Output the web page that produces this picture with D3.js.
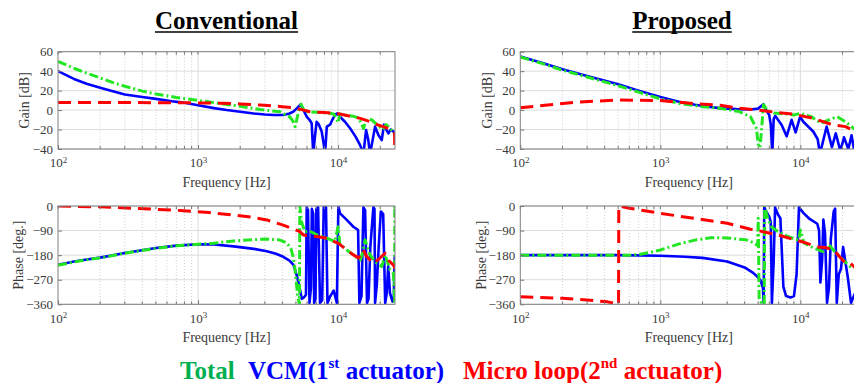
<!DOCTYPE html>
<html>
<head>
<meta charset="utf-8">
<script src="https://cdn.jsdelivr.net/npm/d3@7/dist/d3.min.js"></script>
<style>
  body { margin: 0; background: #fff; }
  svg { display: block; }
  text { font-family: "Liberation Serif", "Times New Roman", Times, "DejaVu Serif", serif; }
</style>
</head>
<body>
<svg id="chart" width="854" height="383"></svg>
<script>
// ---- data: [frequency Hz, value] ----
const freqDomain = [100, 25500];
const gainTicks = [60, 40, 20, 0, -20, -40];
const phaseTicks = [0, -90, -180, -270, -360];
const decadeTicks = [100, 1000, 10000];

// Conventional, gain [dB]
const convGainVcm = [[100,40],[130,32],[160,27],[200,23],[250,19],[300,16],[400,13.5],[500,11.5],[650,9],[785,7.7],[1000,5],[1300,2],[1600,0],[2000,-1.7],[2500,-3.5],[3000,-4.5],[3500,-5],[4060,-5],[4500,-3.5],[4800,-1.5],[5100,2],[5400,5.9],[5700,-1],[5970,-6.8],[6250,-10],[6480,-13.6],[6650,-45],[6800,-30],[7030,-12],[7300,-15],[7640,-22],[7900,-35],[8070,-45],[8310,-17],[8770,-15],[9100,-10],[9520,-5],[9890,-3.4],[10300,-6.8],[11200,-12],[12180,-18.7],[13300,-27],[14370,-36],[15170,-45],[15850,-20.5],[16400,-30],[16930,-45],[18380,-17],[19400,-25.6],[20500,-30.8],[21300,-15],[22100,-20],[22880,-24],[23800,-20],[24840,-22],[25500,-24]];
const convGainMicro = [[100,7.7],[300,7.7],[700,7.6],[1000,7.4],[1500,7],[2000,6.3],[2773,5.2],[4000,3.5],[4786,2.5],[5500,0.5],[6300,-1.7],[8000,-2.5],[9700,-3.4],[12000,-6],[14400,-8.5],[17000,-12],[19000,-15],[22000,-18],[24800,-22],[25300,-24],[25500,-50]];
const convGainTotal = [[100,50],[130,43],[160,38],[200,33],[250,28],[300,24.5],[400,19.5],[500,16.5],[700,13],[1000,10],[1400,7],[2000,4],[2773,0.5],[3200,-0.5],[3860,-1.7],[4500,-6.8],[4750,-11],[4930,-17],[5100,-8],[5300,2],[5450,6],[5600,2],[5800,-1.5],[6500,-2],[7500,-2.5],[8500,-3],[9300,-4],[9700,-8],[10000,-13],[10300,-4],[11000,-5],[12500,-6],[14000,-8],[14800,-15],[15170,-19],[15700,-12],[16300,-9],[17400,-10],[19000,-15],[20900,-20],[22000,-15],[23000,-17],[24500,-22],[25500,-24]];

// Conventional, phase [deg.]
const convPhaseVcm = [[100,-215],[130,-203],[160,-196],[200,-189],[300,-172],[500,-154],[700,-145],[1000,-140],[1300,-141],[1800,-148],[2500,-157],[3100,-166],[3600,-175],[4060,-186],[4500,-200],[4800,-216],[5100,-259],[5350,-307],[5500,-340],[5700,-335],[5900,-325],[5970,-5],[6100,-15],[6250,-355],[6400,-300],[6500,-10],[6650,-30],[6750,-355],[6900,-340],[7000,-10],[7200,-5],[7430,-355],[7700,-345],[7900,-5],[8200,-5],[8400,-355],[8800,-330],[9300,-310],[9800,-355],[10050,-2],[10330,-27],[11530,-51],[12850,-76],[13900,-88],[14200,-355],[14700,-330],[15170,-5],[15600,-15],[16100,-355],[16500,-340],[17000,-150],[17870,-5],[18200,-10],[18380,-355],[18900,-290],[19500,-150],[20200,-20],[21000,-30],[21700,-355],[22270,-320],[22800,-220],[23500,-320],[24500,-350],[25000,-340],[25300,-200],[25500,-180]];
const convPhaseMicro = [[100,0],[200,-3],[345,-8.5],[500,-12],[785,-17],[1200,-24],[1790,-33],[2500,-42],[3100,-51],[4060,-70],[5340,-94],[5650,-106],[7000,-112],[8310,-118],[10050,-137],[11500,-160],[12850,-179],[14000,-190],[15170,-161],[16000,-185],[17870,-210],[19500,-195],[21660,-173],[23000,-200],[24840,-216],[25500,-228]];
const convPhaseTotal = [[100,-217],[130,-205],[160,-197],[200,-190],[300,-173],[500,-155],[700,-146],[1000,-140],[1300,-136],[1800,-128],[2500,-123],[3100,-121],[3800,-124],[4300,-135],[4600,-155],[4800,-190],[4930,-234],[5150,-330],[5300,-360],[5330,0],[5500,-60],[5800,-95],[6300,-92],[7000,-105],[8300,-118],[9500,-130],[10000,-76],[10300,-139],[11500,-160],[12850,-179],[14400,-198],[15000,-170],[15600,-124],[16900,-179],[18400,-204],[20500,-222],[21700,-179],[23500,-234],[24800,-246],[25200,-300],[25350,-360],[25400,0],[25500,-30]];

// Proposed, gain [dB]
const propGainVcm = [[100,55],[150,47.5],[200,42],[300,35],[500,26.5],[700,20],[1000,13.5],[1400,8],[1770,5.5],[2200,3.5],[2670,2],[3500,1],[4400,0.6],[5000,1.5],[5450,6],[5700,0],[5990,-5],[6150,-15],[6300,-45],[6450,-9],[6620,-6],[7340,-15],[7980,-27],[8660,-10],[9250,-23],[9960,-6.8],[10500,-12],[12350,-22],[13300,-30],[13800,-45],[15400,-17],[16800,-38],[17900,-24],[19300,-42],[20500,-28],[22000,-40],[23200,-26],[24500,-45]];
const propGainMicro = [[100,2.4],[150,5],[250,8.2],[500,10.3],[1000,9.8],[1770,6.5],[2670,5],[3650,1.8],[4930,0.2],[5990,-1.5],[8900,-4.2],[12350,-8.5],[16800,-15],[21000,-17],[24000,-21],[25500,-23]];
const propGainTotal = [[100,54.5],[150,47],[200,41],[300,34],[500,25],[700,18.5],[1000,11.5],[1400,6.5],[2000,3.5],[2670,1.8],[3650,-1.5],[4400,-6.8],[4850,-18.7],[5100,-45],[5250,-25],[5450,5.5],[5800,0],[6500,-3],[8000,-4],[9000,-5],[10000,-3.4],[12000,-6.8],[14000,-13.6],[16000,-10],[18300,-6.8],[21000,-12],[24000,-18.7],[25500,-22]];

// Proposed, phase [deg.]
const propPhaseVcm = [[100,-180],[500,-180],[1000,-182],[1500,-186],[2000,-190],[3000,-203],[4000,-225],[4600,-245],[5000,-262],[5200,-272],[5400,-300],[5470,-355],[5520,-5],[5700,-20],[6000,-40],[6150,-60],[6260,-355],[6450,-200],[6600,-5],[6900,-30],[7200,-45],[7560,-295],[7900,-330],[8500,-335],[9000,-330],[9400,-250],[9770,-5],[10500,-25],[11500,-45],[13200,-65],[13600,-90],[13900,-280],[14300,-200],[14600,-50],[15000,-100],[15500,-355],[16000,-300],[16500,-120],[17300,-20],[17700,-10],[18200,-355],[18800,-250],[19500,-230],[20200,-150],[20900,-200],[21800,-260],[23000,-355],[24500,-320]];
const propPhaseMicro = [[100,-332],[200,-338],[300,-344],[420,-351],[503,-360],[505,0],[600,-8],[1000,-27],[1730,-45],[3000,-63],[4400,-85],[5180,-92],[6070,-100],[7160,-108],[9120,-124],[10500,-132],[13100,-150],[15000,-152],[17300,-161],[19000,-185],[21100,-210],[22740,-210],[24500,-225]];
const propPhaseTotal = [[100,-180],[600,-180],[700,-178],[850,-170],[1000,-161],[1400,-137],[1800,-124],[2300,-116],[3000,-117],[4100,-124],[4600,-134],[4950,-145],[5000,-45],[5080,-345],[5300,-355],[5520,-360],[5560,0],[5800,-40],[6200,-76],[7000,-95],[8000,-110],[9000,-120],[9700,-125],[10000,-88],[10600,-135],[12000,-150],[14500,-167],[16000,-143],[17500,-165],[19500,-190],[22700,-222],[24500,-225]];

// ---- drawing ----
const svg = d3.select('#chart');
const serif = '"Liberation Serif", "Times New Roman", Times, "DejaVu Serif", serif';
const textColor = '#3a3a3a';
const style = {
  vcm: { color: '#0000ff', width: 2.6, dash: null },
  total: { color: '#22e622', width: 3, dash: '9,3,2,3' },
  micro: { color: '#ff0000', width: 3, dash: '13,7' }
};

const panels = [
  { id: 'cg', left: 58, right: 395, top: 51.7, bottom: 149, domain: [-40, 60], ticks: gainTicks, label: 'Gain [dB]', labelX: 29,
    series: [[convGainVcm, 'vcm'], [convGainTotal, 'total'], [convGainMicro, 'micro']] },
  { id: 'cp', left: 58, right: 395, top: 206, bottom: 304.3, domain: [-360, 0], ticks: phaseTicks, label: 'Phase [deg.]', labelX: 23,
    series: [[convPhaseVcm, 'vcm'], [convPhaseTotal, 'total'], [convPhaseMicro, 'micro']] },
  { id: 'pg', left: 520.3, right: 857.3, top: 51.7, bottom: 149, domain: [-40, 60], ticks: gainTicks, label: 'Gain [dB]', labelX: 492,
    series: [[propGainVcm, 'vcm'], [propGainTotal, 'total'], [propGainMicro, 'micro']] },
  { id: 'pp', left: 520.3, right: 857.3, top: 206, bottom: 304.3, domain: [-360, 0], ticks: phaseTicks, label: 'Phase [deg.]', labelX: 486,
    series: [[propPhaseVcm, 'vcm'], [propPhaseTotal, 'total'], [propPhaseMicro, 'micro']] }
];

// minor decade positions 2..9 x 10^k inside the domain
const minorTicks = [];
[100, 1000, 10000].forEach(d => {
  for (let m = 2; m <= 9; m++) if (d * m <= freqDomain[1]) minorTicks.push(d * m);
});

panels.forEach(p => {
  const x = d3.scaleLog().domain(freqDomain).range([p.left, p.right]);
  const y = d3.scaleLinear().domain(p.domain).range([p.bottom, p.top]);
  const g = svg.append('g');
  const w = p.right - p.left, h = p.bottom - p.top;

  // grid
  g.append('g').selectAll('line').data(minorTicks).join('line')
    .attr('x1', d => x(d)).attr('x2', d => x(d)).attr('y1', p.top).attr('y2', p.bottom)
    .attr('stroke', '#c4c4c4').attr('stroke-width', 0.8).attr('stroke-dasharray', '1,2');
  g.append('g').selectAll('line').data(decadeTicks.slice(1)).join('line')
    .attr('x1', d => x(d)).attr('x2', d => x(d)).attr('y1', p.top).attr('y2', p.bottom)
    .attr('stroke', '#dcdcdc').attr('stroke-width', 1);
  g.append('g').selectAll('line').data(p.ticks).join('line')
    .attr('x1', p.left).attr('x2', p.right).attr('y1', d => y(d)).attr('y2', d => y(d))
    .attr('stroke', '#dcdcdc').attr('stroke-width', 1);

  // curves
  svg.append('clipPath').attr('id', 'clip-' + p.id)
    .append('rect').attr('x', p.left).attr('y', p.top).attr('width', w).attr('height', h);
  const line = d3.line().x(d => x(d[0])).y(d => y(d[1]));
  const curves = g.append('g').attr('clip-path', 'url(#clip-' + p.id + ')');
  p.series.forEach(([data, key]) => {
    const s = style[key];
    curves.append('path').datum(data)
      .attr('d', line)
      .attr('fill', 'none')
      .attr('stroke', s.color)
      .attr('stroke-width', s.width)
      .attr('stroke-linejoin', 'round')
      .attr('stroke-dasharray', s.dash);
  });

  // axes (ticks pointing inward like MATLAB)
  const yAxis = d3.axisLeft(y).tickValues(p.ticks).tickSizeInner(-4).tickSizeOuter(0).tickPadding(5);
  const yA = g.append('g').attr('transform', `translate(${p.left},0)`).call(yAxis)
    .attr('font-family', serif).attr('font-size', 13);
  yA.select('.domain').remove();
  yA.selectAll('.tick line').attr('stroke', '#777');
  yA.selectAll('.tick text').attr('fill', textColor);

  const xAxis = d3.axisBottom(x).tickValues(decadeTicks).tickSizeInner(-4).tickSizeOuter(0).tickPadding(9).tickFormat(() => '');
  const xA = g.append('g').attr('transform', `translate(0,${p.bottom})`).call(xAxis)
    .attr('font-family', serif).attr('font-size', 13);
  xA.select('.domain').remove();
  xA.selectAll('.tick line').attr('stroke', '#777');
  xA.selectAll('.tick text').attr('fill', textColor)
    .each(function(d) {
      const t = d3.select(this);
      t.append('tspan').text('10');
      t.append('tspan').attr('dy', '-0.45em').attr('font-size', 9).text(Math.round(Math.log10(d)));
    });

  // minor ticks on top and bottom edges
  g.append('g').selectAll('line').data(minorTicks.concat(decadeTicks)).join('line')
    .attr('x1', d => x(d)).attr('x2', d => x(d)).attr('y1', p.top).attr('y2', p.top + 3)
    .attr('stroke', '#777');
  g.append('g').selectAll('line').data(minorTicks).join('line')
    .attr('x1', d => x(d)).attr('x2', d => x(d)).attr('y1', p.bottom).attr('y2', p.bottom - 3)
    .attr('stroke', '#777');

  // frame
  g.append('rect').attr('x', p.left).attr('y', p.top).attr('width', w).attr('height', h)
    .attr('fill', 'none').attr('stroke', '#808080').attr('stroke-width', 1);

  // labels
  g.append('text')
    .attr('transform', `translate(${p.labelX},${(p.top + p.bottom) / 2}) rotate(-90)`)
    .attr('text-anchor', 'middle').attr('font-size', 14).attr('fill', textColor)
    .attr('font-family', serif)
    .text(p.label);
  g.append('text')
    .attr('x', (p.left + p.right) / 2).attr('y', p.bottom + 38)
    .attr('text-anchor', 'middle').attr('font-size', 14).attr('fill', textColor)
    .attr('font-family', serif)
    .text('Frequency [Hz]');
});

// titles, underlined
[['Conventional', 226.5], ['Proposed', 682]].forEach(([txt, cx]) => {
  const t = svg.append('text').attr('x', cx).attr('y', 29).attr('text-anchor', 'middle')
    .attr('font-family', serif)
    .attr('font-size', 25).attr('font-weight', 'bold').attr('fill', '#000').text(txt);
  const len = t.node().getComputedTextLength();
  svg.append('line').attr('x1', cx - len / 2).attr('x2', cx + len / 2).attr('y1', 32).attr('y2', 32)
    .attr('stroke', '#000').attr('stroke-width', 1.5);
});

// legend
const legendItems = [
  { x: 180, color: '#00b050', parts: [['Total']] },
  { x: 248, color: '#0000ff', parts: [['VCM(1'], ['st', true], [' actuator)']] },
  { x: 463, color: '#ff0000', parts: [['Micro loop(2'], ['nd', true], [' actuator)']] }
];
legendItems.forEach(item => {
  const t = svg.append('text').attr('x', item.x).attr('y', 379)
    .attr('font-family', serif)
    .attr('font-size', 25).attr('font-weight', 'bold').attr('fill', item.color);
  let raised = false;
  item.parts.forEach(([s, sup]) => {
    const ts = t.append('tspan').text(s);
    if (sup) { ts.attr('font-size', 15).attr('dy', '-0.75em'); raised = true; }
    else if (raised) { ts.attr('dy', '0.45em'); raised = false; }
  });
});
</script>
</body>
</html>
